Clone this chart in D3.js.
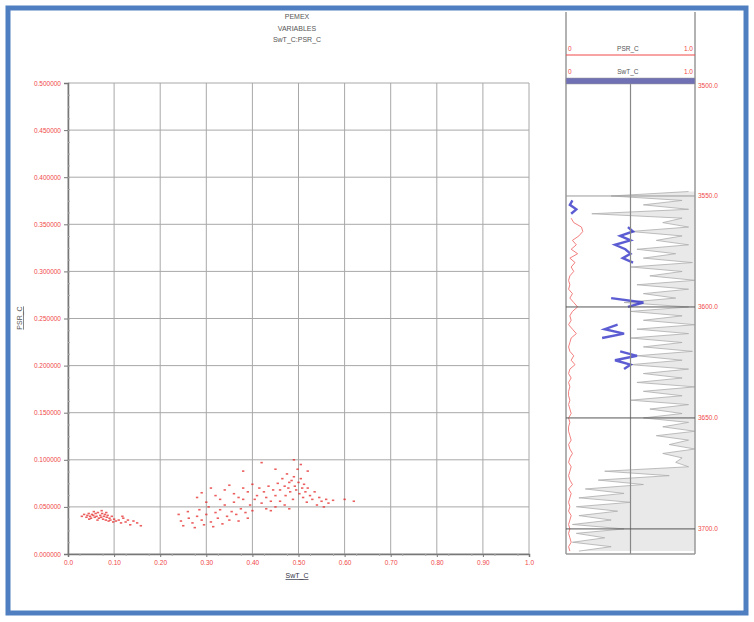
<!DOCTYPE html>
<html><head><meta charset="utf-8">
<script src="https://cdn.jsdelivr.net/npm/d3@7"></script>
<style>body{margin:0;background:#fff}svg{display:block;font-family:"Liberation Sans",Arial,sans-serif}</style>
</head><body><svg id="c" width="754" height="622"></svg>
<script>
const titleLines = ["PEMEX", "VARIABLES", "SwT_C:PSR_C"];
const xTicks = [0, 0.1, 0.2, 0.3, 0.4, 0.5, 0.6, 0.7, 0.8, 0.9, 1.0];
const xTickLabels = ["0.0","0.10","0.20","0.30","0.40","0.50","0.60","0.70","0.80","0.90","1.0"];
const yTicks = [0, 0.05, 0.1, 0.15, 0.2, 0.25, 0.3, 0.35, 0.4, 0.45, 0.5];
const xLabel = "SwT_C", yLabel = "PSR_C";
// crossplot points [SwT_C, PSR_C]
const points = [
[0.03,0.040],[0.035,0.042],[0.04,0.039],[0.042,0.041],[0.045,0.043],[0.048,0.040],[0.05,0.038],[0.052,0.042],[0.055,0.041],[0.058,0.039],[0.06,0.043],[0.062,0.040],[0.065,0.044],[0.067,0.038],[0.07,0.041],[0.072,0.039],[0.074,0.043],[0.076,0.037],[0.078,0.040],[0.08,0.042],[0.082,0.036],[0.084,0.039],[0.086,0.041],[0.088,0.035],[0.09,0.038],[0.092,0.036],[0.095,0.040],[0.098,0.034],[0.1,0.037],[0.104,0.035],[0.056,0.045],[0.064,0.036],[0.073,0.046],[0.083,0.044],[0.046,0.037],
[0.11,0.036],[0.115,0.033],[0.12,0.038],[0.125,0.034],[0.13,0.036],[0.135,0.031],[0.142,0.035],[0.15,0.033],[0.158,0.030],[0.118,0.040],
[0.24,0.042],[0.245,0.035],[0.25,0.030],[0.26,0.045],[0.262,0.038],[0.27,0.033],[0.275,0.028],[0.28,0.040],[0.285,0.047],[0.29,0.036],[0.295,0.031],[0.3,0.042],[0.305,0.050],[0.31,0.034],[0.315,0.029],[0.32,0.044],[0.325,0.038],[0.33,0.047],[0.335,0.032],[0.34,0.052],[0.345,0.040],[0.35,0.036],[0.355,0.045],[0.36,0.055],[0.365,0.042],[0.37,0.035],[0.375,0.048],[0.38,0.058],[0.385,0.044],[0.39,0.038],[0.395,0.052],[0.4,0.046],
[0.28,0.060],[0.29,0.065],[0.3,0.055],[0.31,0.070],[0.32,0.062],[0.33,0.058],[0.34,0.068],[0.35,0.073],[0.36,0.064],[0.37,0.060],[0.38,0.070],[0.39,0.066],[0.4,0.074],[0.405,0.058],[0.41,0.062],[0.415,0.070],[0.42,0.054],[0.425,0.066],[0.43,0.060],[0.435,0.072],[0.44,0.056],[0.445,0.068],[0.45,0.062],
[0.455,0.075],[0.46,0.068],[0.465,0.080],[0.47,0.072],[0.472,0.062],[0.475,0.085],[0.478,0.070],[0.48,0.076],[0.482,0.066],[0.485,0.078],[0.488,0.058],[0.49,0.082],[0.492,0.072],[0.495,0.068],[0.498,0.090],[0.5,0.076],[0.502,0.064],[0.505,0.080],[0.508,0.070],[0.51,0.060],[0.512,0.074],[0.515,0.066],[0.518,0.055],[0.52,0.070],[0.525,0.062],[0.53,0.058],[0.535,0.066],[0.54,0.052],[0.545,0.060],[0.55,0.056],[0.555,0.050],[0.56,0.058],[0.565,0.054],[0.575,0.057],[0.47,0.052],[0.48,0.048],[0.46,0.056],[0.45,0.050],[0.44,0.046],[0.43,0.048],
[0.42,0.097],[0.45,0.090],[0.49,0.100],[0.505,0.095],[0.62,0.056],[0.6,0.058],[0.52,0.088],[0.38,0.088]
];
// log track
const depthTicks = [3500, 3550, 3600, 3650, 3700];
const grayDepth = d3.range(3548, 3711, 2);
const grayCurve = [0.95,0.35,0.9,0.6,0.95,0.2,0.9,0.75,0.95,0.5,0.9,0.7,0.95,0.55,0.85,0.6,0.98,0.5,0.9,0.65,1.0,0.55,0.95,0.6,0.85,0.45,0.95,0.5,0.9,0.6,1.0,0.55,0.95,0.5,0.9,0.6,0.98,0.55,0.9,0.5,0.95,0.6,0.9,0.55,1.0,0.6,0.9,0.5,0.95,0.65,0.9,0.6,0.95,0.75,1.0,0.7,0.95,0.8,1.0,0.75,0.9,0.85,0.95,0.3,0.8,0.25,0.6,0.15,0.45,0.1,0.5,0.08,0.4,0.1,0.35,0.05,0.45,0.08,0.3,0.05,0.35,0.1];
const psrDepth = d3.range(3560, 3711, 2);
const psrCurve = [0.04,0.06,0.12,0.13,0.1,0.05,0.08,0.04,0.09,0.03,0.07,0.04,0.06,0.03,0.02,0.03,0.02,0.05,0.03,0.06,0.09,0.05,0.03,0.04,0.02,0.05,0.08,0.04,0.03,0.02,0.03,0.06,0.04,0.07,0.03,0.02,0.04,0.02,0.03,0.02,0.02,0.03,0.02,0.03,0.04,0.02,0.03,0.02,0.02,0.03,0.04,0.02,0.03,0.05,0.03,0.02,0.04,0.03,0.02,0.03,0.05,0.02,0.04,0.03,0.02,0.03,0.02,0.04,0.03,0.02,0.03,0.02,0.03,0.04,0.02,0.03];
const swtDepth = d3.range(3552, 3631, 2);
const swtCurve = [0.05,0.03,0.08,0.04,null,null,0.48,0.52,0.42,0.5,0.38,0.46,0.5,0.44,0.52,null,null,null,null,null,null,null,0.35,0.6,0.48,null,null,null,0.4,0.3,0.45,0.28,null,null,0.42,0.55,0.38,0.5,0.45,null];

const svg = d3.select("#c");
const red = "#f04848";
// outer frame
svg.append("rect").attr("x",8).attr("y",8).attr("width",738).attr("height",605)
  .attr("fill","none").attr("stroke","#4f7fc0").attr("stroke-width",5);

const x = d3.scaleLinear().domain([0,1]).range([68,529]);
const y = d3.scaleLinear().domain([0,0.5]).range([554,83]);

// grid
svg.append("g").selectAll("line").data(xTicks).join("line")
  .attr("x1",d=>x(d)).attr("x2",d=>x(d)).attr("y1",y(0)).attr("y2",y(0.5))
  .attr("stroke","#a8a8a8").attr("stroke-width",1);
svg.append("g").selectAll("line").data(yTicks).join("line")
  .attr("x1",x(0)).attr("x2",x(1)).attr("y1",d=>y(d)).attr("y2",d=>y(d))
  .attr("stroke","#a8a8a8").attr("stroke-width",1);

// axes
const xAxis = svg.append("g").attr("transform",`translate(0,${y(0)})`)
  .call(d3.axisBottom(x).tickValues(xTicks).tickFormat((d,i)=>xTickLabels[i]).tickSize(3));
const yAxis = svg.append("g").attr("transform",`translate(${x(0)},0)`)
  .call(d3.axisLeft(y).tickValues(yTicks).tickFormat(d3.format(".6f")).tickSize(4));
[xAxis,yAxis].forEach(g=>{
  g.select(".domain").attr("stroke","#777").attr("stroke-width",1.5);
  g.selectAll(".tick line").attr("stroke","#777");
  g.selectAll("text").attr("fill",red).attr("font-size",6.5).attr("font-family","Liberation Sans, Arial");
});
// minor ticks
svg.append("g").attr("transform",`translate(0,${y(0)})`)
  .call(d3.axisBottom(x).tickValues(d3.range(0.025,1,0.05)).tickSize(2).tickFormat(""))
  .call(g=>{g.select(".domain").remove();g.selectAll("line").attr("stroke","#aaa");});
svg.append("g").attr("transform",`translate(${x(0)},0)`)
  .call(d3.axisRight(y).tickValues(d3.range(0.0125,0.5,0.0125)).tickSize(2).tickFormat(""))
  .call(g=>{g.select(".domain").remove();g.selectAll("line").attr("stroke","#aaa");});

// points
svg.append("g").selectAll("rect").data(points).join("rect")
  .attr("x",d=>x(d[0])-1.2).attr("y",d=>y(d[1])-0.8).attr("width",2.4).attr("height",1.6)
  .attr("fill","#e52a2a").attr("opacity",0.75);

// title
svg.append("g").selectAll("text").data(titleLines).join("text")
  .attr("x",297).attr("y",(d,i)=>19+i*11.5).attr("text-anchor","middle")
  .attr("font-size",7).attr("fill","#555").text(d=>d);
// axis labels
svg.append("text").attr("x",297).attr("y",578).attr("text-anchor","middle")
  .attr("font-size",7).attr("fill","#334").attr("text-decoration","underline").text(xLabel);
svg.append("text").attr("transform","translate(22,318) rotate(-90)").attr("text-anchor","middle")
  .attr("font-size",7).attr("fill","#555").attr("text-decoration","underline").text(yLabel);

// ---- log track ----
const tx = d3.scaleLinear().domain([0,1]).range([566,695]);
const ty = d3.scaleLinear().domain([3500,3711.3]).range([85,554]);
const tr = svg.append("g");
// curves
const grayData = grayDepth.map((d,i)=>[d,grayCurve[i]]);
tr.append("path").datum(grayData)
  .attr("d",d3.area().x0(d=>tx(d[1])).x1(tx(1)).y(d=>ty(d[0])))
  .attr("fill","#d4d4d4").attr("opacity",0.5);
const lin = d3.line().x(d=>tx(d[1])).y(d=>ty(d[0]));
tr.append("path").datum(grayData)
  .attr("d",lin).attr("fill","none").attr("stroke","#adadad").attr("stroke-width",0.8);
tr.append("path").datum(psrDepth.map((d,i)=>[d,psrCurve[i]]))
  .attr("d",lin).attr("fill","none").attr("stroke","#f07070").attr("stroke-width",0.9);
const swtLine = d3.line().defined(d=>d[1]!==null).x(d=>tx(d[1])).y(d=>ty(d[0]));
tr.append("path").datum(swtDepth.map((d,i)=>[d,swtCurve[i]]))
  .attr("d",swtLine).attr("fill","none").attr("stroke","#3535c8").attr("stroke-width",2.4).attr("opacity",0.8);

tr.append("line").attr("x1",tx(0)).attr("x2",tx(0)).attr("y1",12).attr("y2",554).attr("stroke","#999").attr("stroke-width",1.5);
tr.append("line").attr("x1",tx(1)).attr("x2",tx(1)).attr("y1",12).attr("y2",554).attr("stroke","#999").attr("stroke-width",1.5);
tr.append("line").attr("x1",tx(0.5)).attr("x2",tx(0.5)).attr("y1",84).attr("y2",554).attr("stroke","#888").attr("stroke-width",1.2);
tr.append("line").attr("x1",tx(0)).attr("x2",tx(1)).attr("y1",554).attr("y2",554).attr("stroke","#999").attr("stroke-width",1.5);
// header
tr.append("line").attr("x1",tx(0)).attr("x2",tx(1)).attr("y1",55).attr("y2",55).attr("stroke",red).attr("stroke-width",1);
tr.append("rect").attr("x",tx(0)).attr("y",78).attr("width",tx(1)-tx(0)).attr("height",6).attr("fill","#7070b4").attr("stroke","#999").attr("stroke-width",0.5);
[["PSR_C",51],["SwT_C",74]].forEach(([n,yy])=>{
  tr.append("text").attr("x",tx(0)+2).attr("y",yy).attr("font-size",6.5).attr("fill",red).text("0");
  tr.append("text").attr("x",tx(0.48)).attr("y",yy).attr("text-anchor","middle").attr("font-size",6.5).attr("fill","#555").text(n);
  tr.append("text").attr("x",tx(1)-2).attr("y",yy).attr("text-anchor","end").attr("font-size",6.5).attr("fill",red).text("1.0");
});
// depth lines & labels
tr.append("g").selectAll("line").data(depthTicks.slice(1)).join("line")
  .attr("x1",tx(0)).attr("x2",tx(1)).attr("y1",d=>ty(d)).attr("y2",d=>ty(d))
  .attr("stroke",(d,i)=>i==0?"#999":"#555").attr("stroke-width",1);
tr.append("g").selectAll("text").data(depthTicks).join("text")
  .attr("x",tx(1)+3).attr("y",d=>ty(d)+2.5).attr("font-size",6.5).attr("fill",red)
  .text(d=>d.toFixed(1));
</script></body></html>
